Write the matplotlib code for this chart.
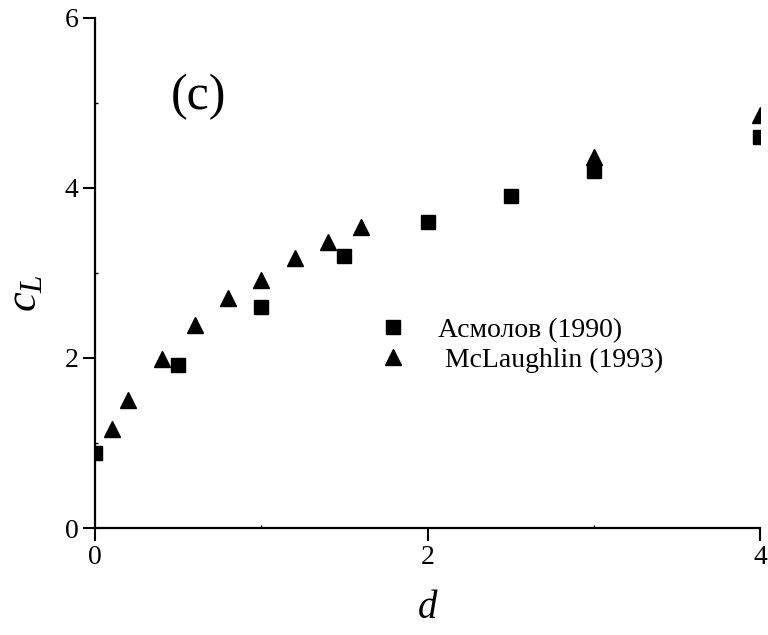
import matplotlib
matplotlib.use("Agg")
import matplotlib.pyplot as plt
from matplotlib.ticker import MultipleLocator

plt.rcParams["font.family"] = ["Liberation Serif", "DejaVu Serif"]
plt.rcParams["mathtext.fontset"] = "custom"
plt.rcParams["mathtext.rm"] = "Liberation Serif"
plt.rcParams["mathtext.it"] = "Liberation Serif:italic"

# Асмолов (1990)
asm_d = [0.0, 0.5, 1.0, 1.5, 2.0, 2.5, 3.0, 4.0]
asm_cl = [0.88, 1.92, 2.6, 3.2, 3.6, 3.9, 4.2, 4.6]

# McLaughlin (1993)
mcl_d = [0.1, 0.2, 0.4, 0.6, 0.8, 1.0, 1.2, 1.4, 1.6, 3.0, 4.0]
mcl_cl = [1.17, 1.5, 1.99, 2.39, 2.7, 2.92, 3.18, 3.37, 3.54, 4.36, 4.86]

fig = plt.figure(figsize=(7.68, 6.35), dpi=100)
ax = fig.add_axes([0.1237, 0.1685, 0.8659, 0.8032])

ax.plot(asm_d, asm_cl, "s", color="black", markersize=10, label="Асмолов (1990)")
ax.plot(mcl_d, mcl_cl, "^", color="black", markersize=12, label=" McLaughlin (1993)")

ax.set_xlim(0, 4)
ax.set_ylim(0, 6)
ax.xaxis.set_major_locator(MultipleLocator(2))
ax.yaxis.set_major_locator(MultipleLocator(2))
ax.xaxis.set_minor_locator(MultipleLocator(1))
ax.yaxis.set_minor_locator(MultipleLocator(1))
ax.tick_params(which="major", direction="out", length=9, width=1.5, labelsize=20, pad=3)
ax.tick_params(which="minor", direction="in", length=2, width=1)

for s in ["top", "right"]:
    ax.spines[s].set_visible(False)
for s in ["left", "bottom"]:
    ax.spines[s].set_linewidth(1.6)

ax.set_xlabel("$d$", fontsize=28)
ax.xaxis.set_label_coords(0.5, -0.122)
ax.set_ylabel("$c_L$", fontsize=32)
ax.yaxis.set_label_coords(-0.075, 0.46)

ax.text(0.155, 0.845, "(c)", transform=ax.transAxes, fontsize=36,
        ha="center", va="center")

ax.legend(loc="upper left", bbox_to_anchor=(0.39, 0.434), frameon=False,
          fontsize=20, handletextpad=0.6, labelspacing=0.15, borderaxespad=0)

fig.savefig("out.png", dpi=100)
